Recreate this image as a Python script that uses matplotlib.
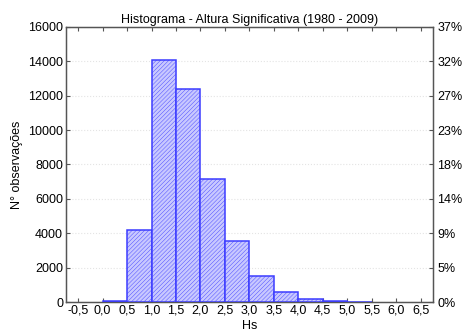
import matplotlib
matplotlib.use("Agg")
import matplotlib.pyplot as plt
import numpy as np

plt.rcParams['font.family'] = ['Liberation Sans', 'DejaVu Sans']
plt.rcParams['hatch.linewidth'] = 0.3
plt.rcParams['hatch.color'] = '#8a8aff'

# histogram of Hs, bins of 0.5 m
bin_left = [0.0, 0.5, 1.0, 1.5, 2.0, 2.5, 3.0, 3.5, 4.0, 4.5, 5.0]
counts = [40, 4210, 14050, 12380, 7180, 3570, 1530, 600, 190, 45, 20]
total = 43830
xticks = [-0.5, 0.0, 0.5, 1.0, 1.5, 2.0, 2.5, 3.0, 3.5, 4.0, 4.5, 5.0, 5.5, 6.0, 6.5]
yticks = [0, 2000, 4000, 6000, 8000, 10000, 12000, 14000, 16000]
pct_labels = ["0%", "5%", "9%", "14%", "18%", "23%", "27%", "32%", "37%"]

fs = 9
fig = plt.figure(figsize=(4.64, 3.36), dpi=100)
ax = fig.add_axes([0.142, 0.101, 0.791, 0.819])

ax.bar(bin_left, counts, width=0.5, align='edge', facecolor='#c8c8ff',
       edgecolor='#3c3cff', hatch='////////', linewidth=1.1, zorder=3)

ax.set_xlim(-0.75, 6.75)
ax.set_ylim(0, 16000)
ax.set_xticks(xticks)
ax.set_xticklabels([("%.1f" % v).replace('.', ',') for v in xticks], fontsize=fs)
ax.set_yticks(yticks)
ax.set_yticklabels([str(v) for v in yticks], fontsize=fs)
ax.grid(axis='y', color='#e4e4e4', linestyle=':', linewidth=0.8, zorder=0)
ax.tick_params(direction='in', length=3, top=True, color='#555555', pad=2)
for s in ax.spines.values():
    s.set_color('#555555')
    s.set_linewidth(1.0)

ax.set_xlabel("Hs", fontsize=fs, labelpad=2)
ax.set_ylabel("N° observações", fontsize=fs, labelpad=4)
ax.set_title("Histograma - Altura Significativa (1980 - 2009)", fontsize=fs, pad=3)

ax2 = ax.twinx()
ax2.set_ylim(0, 16000)
ax2.set_yticks(yticks)
ax2.set_yticklabels(pct_labels, fontsize=fs)
ax2.tick_params(direction='in', length=3, color='#555555', pad=3)
for s in ax2.spines.values():
    s.set_color('#555555')

fig.savefig("out.png", dpi=100)
